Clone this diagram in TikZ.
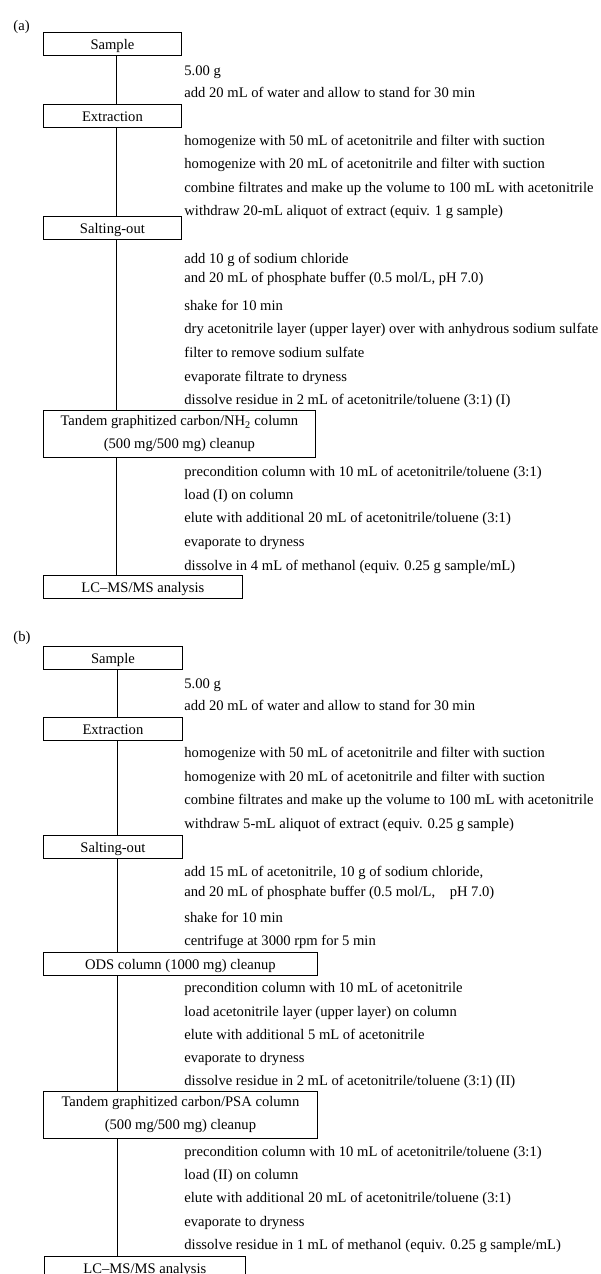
\documentclass[tikz,border=0pt]{standalone}
\usepackage{fontspec}
\setmainfont{Liberation Serif}
\tikzset{every path/.style={black,line width=0.85pt},
  every node/.style={inner sep=0pt, font=\fontsize{14.6}{23}\selectfont},
  stepbox/.style={draw, anchor=north west, minimum height=23pt, text height=12pt, text depth=1pt},
  twobox/.style={draw, anchor=north west, minimum height=47pt, align=center},
  steptext/.style={anchor=west, text height=12pt, text depth=1pt}}

\begin{document}
\begin{tikzpicture}[x=1pt,y=-1pt]
     \useasboundingbox (0,0) rectangle (600,1274);
     % (a)
     \begin{scope}
      \node[steptext] (tagA) at (13,25) {(a)};
      \coordinate (spineA) at (116,0);
      \node[stepbox, minimum width=138pt] (sampleA) at (43,32) {Sample};
      \node[steptext] (a1) at (184,70) {5.00 g};
      \node[steptext] (a2) at (184,92) {add 20 mL of water and allow to stand for 30 min};
      \node[stepbox, minimum width=138pt] (extrA) at (43,104) {Extraction};
      \node[steptext] (a3) at (184,140) {homogenize with 50 mL of acetonitrile and filter with suction};
      \node[steptext] (a4) at (184,163) {homogenize with 20 mL of acetonitrile and filter with suction};
      \node[steptext] (a5) at (184,187) {combine filtrates and make up the volume to 100 mL with acetonitrile};
      \node[steptext] (a6) at (184,210) {withdraw 20-mL aliquot of extract (equiv. 1 g sample)};
      \node[stepbox, minimum width=138pt] (saltA) at (43,216) {Salting-out};
      \node[steptext] (a7) at (184,258) {add 10 g of sodium chloride};
      \node[steptext] (a8) at (184,277) {and 20 mL of phosphate buffer (0.5 mol/L, pH 7.0)};
      \node[steptext] (a9) at (184,305) {shake for 10 min};
      \node[steptext] (a10) at (184,328) {dry acetonitrile layer (upper layer) over with anhydrous sodium sulfate};
      \node[steptext] (a11) at (184,352) {filter to remove sodium sulfate};
      \node[steptext] (a12) at (184,376) {evaporate filtrate to dryness};
      \node[steptext] (a13) at (184,399) {dissolve residue in 2 mL of acetonitrile/toluene (3:1) (I)};
      \node[twobox, minimum width=272pt] (tandA) at (43,410) {Tandem graphitized carbon/NH\textsubscript{2} column\\(500 mg/500 mg) cleanup};
      \node[steptext] (a14) at (184,471) {precondition column with 10 mL of acetonitrile/toluene (3:1)};
      \node[steptext] (a15) at (184,494) {load (I) on column};
      \node[steptext] (a16) at (184,517) {elute with additional 20 mL of acetonitrile/toluene (3:1)};
      \node[steptext] (a17) at (184,541) {evaporate to dryness};
      \node[steptext] (a18) at (184,565) {dissolve in 4 mL of methanol (equiv. 0.25 g sample/mL)};
      \node[stepbox, minimum width=199pt] (lcA) at (43,575) {LC--MS/MS analysis};
      \draw (sampleA.south -| spineA) -- (extrA.north -| spineA);
      \draw (extrA.south -| spineA) -- (saltA.north -| spineA);
      \draw (saltA.south -| spineA) -- (tandA.north -| spineA);
      \draw (tandA.south -| spineA) -- (lcA.north -| spineA);
     \end{scope}
     % (b)
     \begin{scope}
      \node[steptext] (tagB) at (13,636) {(b)};
      \coordinate (spineB) at (117,0);
      \node[stepbox, minimum width=139pt] (sampleB) at (43,646) {Sample};
      \node[steptext] (b1) at (184,683) {5.00 g};
      \node[steptext] (b2) at (184,705) {add 20 mL of water and allow to stand for 30 min};
      \node[stepbox, minimum width=139pt] (extrB) at (43,717) {Extraction};
      \node[steptext] (b3) at (184,752) {homogenize with 50 mL of acetonitrile and filter with suction};
      \node[steptext] (b4) at (184,776) {homogenize with 20 mL of acetonitrile and filter with suction};
      \node[steptext] (b5) at (184,799) {combine filtrates and make up the volume to 100 mL with acetonitrile};
      \node[steptext] (b6) at (184,823) {withdraw 5-mL aliquot of extract (equiv. 0.25 g sample)};
      \node[stepbox, minimum width=139pt] (saltB) at (43,835) {Salting-out};
      \node[steptext] (b7) at (184,871) {add 15 mL of acetonitrile, 10 g of sodium chloride,};
      \node[steptext] (b8) at (184,891) {and 20 mL of phosphate buffer (0.5 mol/L,\quad pH 7.0)};
      \node[steptext] (b9) at (184,917) {shake for 10 min};
      \node[steptext] (b10) at (184,940) {centrifuge at 3000 rpm for 5 min};
      \node[stepbox, minimum width=274pt] (odsB) at (43,952) {ODS column (1000 mg) cleanup};
      \node[steptext] (b11) at (184,987) {precondition column with 10 mL of acetonitrile};
      \node[steptext] (b12) at (184,1011) {load acetonitrile layer (upper layer) on column};
      \node[steptext] (b13) at (184,1034) {elute with additional 5 mL of acetonitrile};
      \node[steptext] (b14) at (184,1057) {evaporate to dryness};
      \node[steptext] (b15) at (184,1080) {dissolve residue in 2 mL of acetonitrile/toluene (3:1) (II)};
      \node[twobox, minimum width=274pt] (tandB) at (43,1091) {Tandem graphitized carbon/PSA column\\(500 mg/500 mg) cleanup};
      \node[steptext] (b16) at (184,1151) {precondition column with 10 mL of acetonitrile/toluene (3:1)};
      \node[steptext] (b17) at (184,1174) {load (II) on column};
      \node[steptext] (b18) at (184,1197) {elute with additional 20 mL of acetonitrile/toluene (3:1)};
      \node[steptext] (b19) at (184,1221) {evaporate to dryness};
      \node[steptext] (b20) at (184,1244) {dissolve residue in 1 mL of methanol (equiv. 0.25 g sample/mL)};
      \node[stepbox, minimum width=201pt] (lcB) at (44,1256) {LC--MS/MS analysis};
      \draw (sampleB.south -| spineB) -- (extrB.north -| spineB);
      \draw (extrB.south -| spineB) -- (saltB.north -| spineB);
      \draw (saltB.south -| spineB) -- (odsB.north -| spineB);
      \draw (odsB.south -| spineB) -- (tandB.north -| spineB);
      \draw (tandB.south -| spineB) -- (lcB.north -| spineB);
     \end{scope}
\end{tikzpicture}
\end{document}
